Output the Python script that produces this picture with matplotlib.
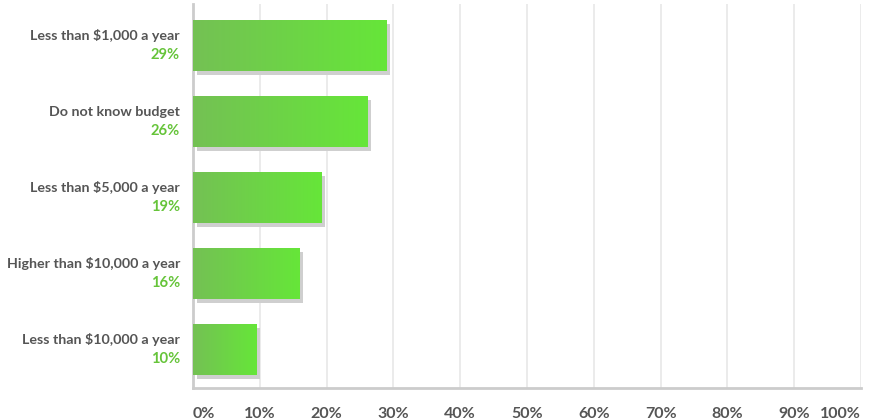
import numpy as np
import matplotlib
matplotlib.use('Agg')
import matplotlib.pyplot as plt
from matplotlib.colors import LinearSegmentedColormap
from matplotlib.transforms import offset_copy

categories = ["Less than $1,000 a year", "Do not know budget", "Less than $5,000 a year",
              "Higher than $10,000 a year", "Less than $10,000 a year"]
values = [28.9, 26.1, 19.2, 15.9, 9.5]
pct_labels = ["29%", "26%", "19%", "16%", "10%"]
ticks = [0, 10, 20, 30, 40, 50, 60, 70, 80, 90, 100]
tick_labels = [f"{t}%" for t in ticks]

plt.rcParams['font.family'] = ['Lato', 'DejaVu Sans']

fig = plt.figure(figsize=(8.7, 4.2), dpi=100)
ax = fig.add_axes([193 / 870, 32 / 420, 668 / 870, 384 / 420])

grad = LinearSegmentedColormap.from_list("g", ["#74c154", "#66e639"])
g = np.linspace(0, 1, 256).reshape(1, -1)
bar_h = 0.67
shadow_tr = offset_copy(ax.transData, fig=fig, x=4, y=-4, units='dots')

for i, v in enumerate(values):
    y = i
    ax.add_patch(plt.Rectangle((0, y - bar_h / 2), v, bar_h, color="#cfcfcf",
                               transform=shadow_tr, zorder=2, lw=0))
    ax.imshow(g, cmap=grad, aspect='auto', extent=[0, v, y + bar_h / 2, y - bar_h / 2],
              zorder=3, interpolation='bilinear')
    ax.annotate(categories[i], xy=(0, y), xycoords='data', xytext=(-13, 9.5),
                textcoords='offset pixels',
                ha='right', va='center', fontsize=10.3, fontweight='bold', color="#555555")
    ax.annotate(pct_labels[i], xy=(0, y), xycoords='data', xytext=(-13, -9.5),
                textcoords='offset pixels',
                ha='right', va='center', fontsize=10.6, fontweight='bold', color="#66c43a")

ax.set_xlim(0, 100)
ax.set_ylim(len(values) - 0.49, -0.54)
ax.set_yticks([])
ax.set_xticks(ticks)
ax.set_xticklabels(tick_labels, fontsize=11.5, fontweight='bold', color="#555555")
for lbl in ax.get_xticklabels():
    lbl.set_ha('center')
ax.get_xticklabels()[0].set_ha('left')
ax.get_xticklabels()[-1].set_ha('right')
ax.tick_params(axis='x', length=0, pad=14)
ax.grid(axis='x', color="#e8e8e8", lw=1.2, zorder=0)
ax.set_axisbelow(True)
for s in ['top', 'right']:
    ax.spines[s].set_visible(False)
ax.spines['left'].set_color("#cccccc")
ax.spines['left'].set_linewidth(2)
ax.spines['bottom'].set_color("#cccccc")
ax.spines['bottom'].set_linewidth(2)

fig.savefig("out.png", dpi=100)
